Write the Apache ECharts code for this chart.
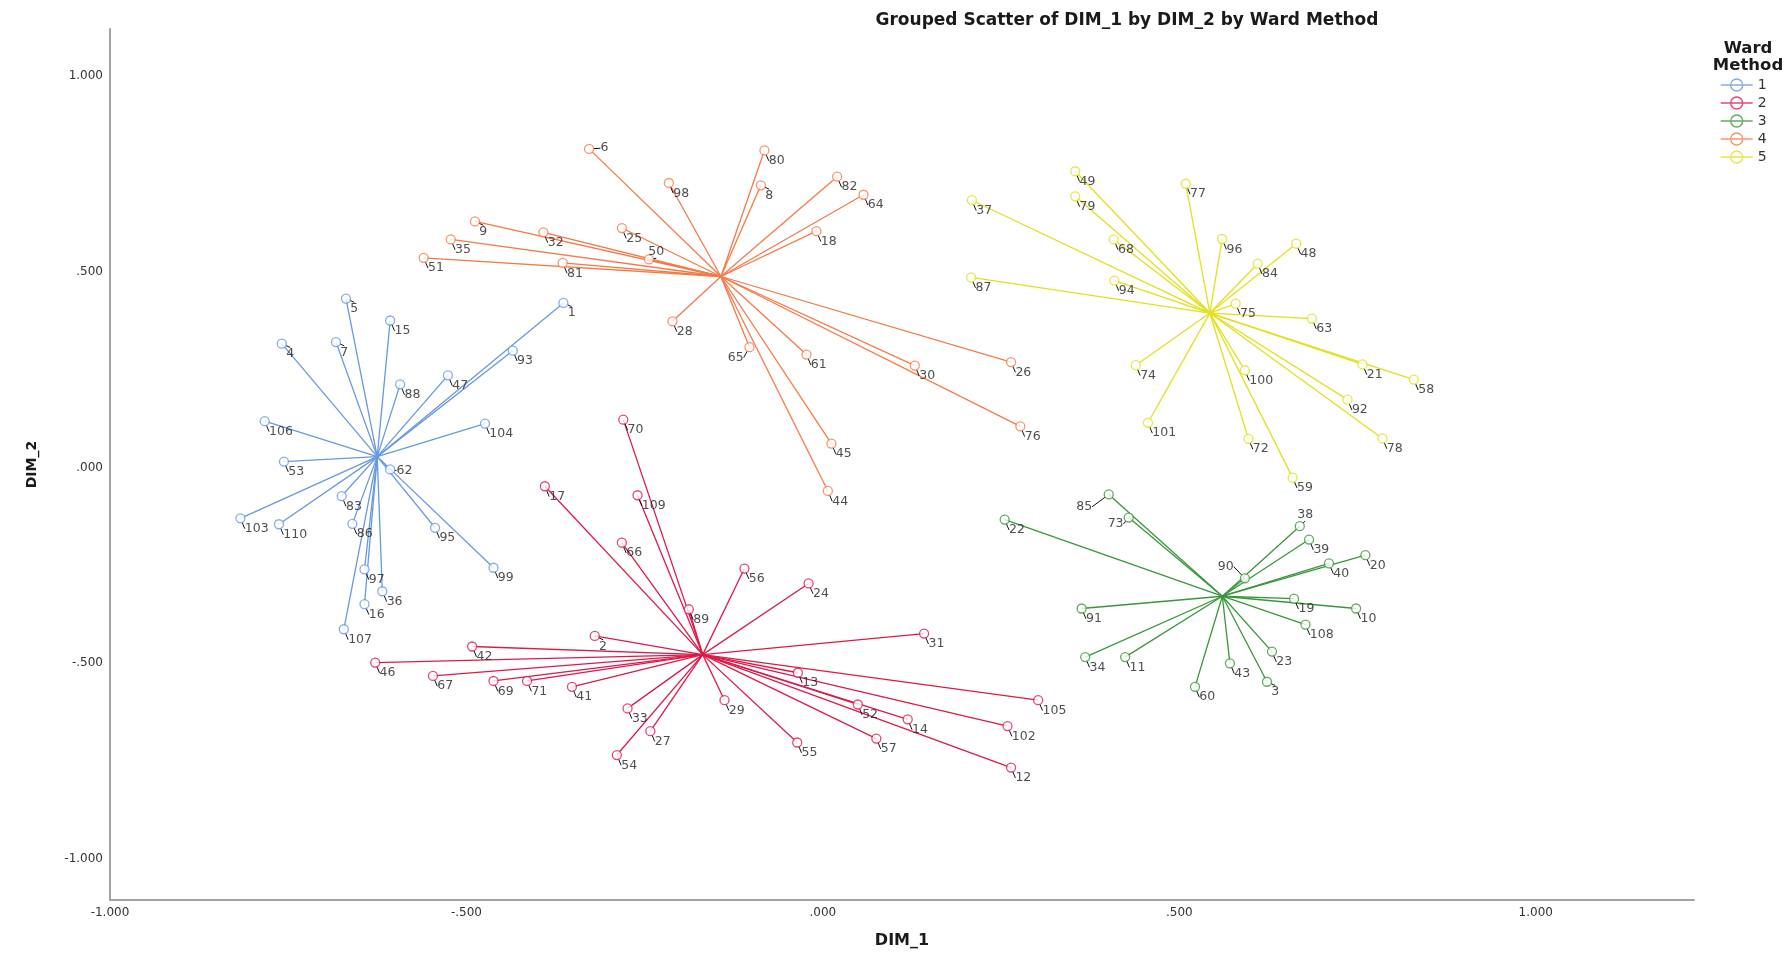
<!DOCTYPE html>
<html>
<head>
<meta charset="utf-8">
<title>Grouped Scatter of DIM_1 by DIM_2 by Ward Method</title>
<script src="https://cdn.jsdelivr.net/npm/echarts@6.0.0/dist/echarts.min.js"></script>
<style>
  html, body { margin: 0; padding: 0; background: #fff; }
  #chart { width: 1789px; height: 954px; }
</style>
</head>
<body>
<div id="chart"></div>
<script>
// [case number, DIM_1, DIM_2] for every case, one list per Ward cluster
const ward1 = [
  [1, -0.364, 0.420], [4, -0.759, 0.316], [5, -0.669, 0.431], [7, -0.683, 0.320],
  [15, -0.607, 0.375], [16, -0.643, -0.349], [36, -0.618, -0.316], [47, -0.526, 0.235],
  [53, -0.756, 0.015], [62, -0.607, -0.005], [83, -0.675, -0.073], [86, -0.660, -0.144],
  [88, -0.593, 0.212], [93, -0.435, 0.298], [95, -0.544, -0.154], [97, -0.643, -0.260],
  [99, -0.462, -0.256], [103, -0.817, -0.130], [104, -0.474, 0.112], [106, -0.783, 0.118],
  [107, -0.672, -0.413], [110, -0.763, -0.145]
];
const ward2 = [
  [2, -0.320, -0.430], [12, 0.264, -0.766], [13, -0.035, -0.524], [14, 0.119, -0.643],
  [17, -0.390, -0.048], [24, -0.020, -0.296], [27, -0.242, -0.673], [29, -0.138, -0.594],
  [31, 0.142, -0.424], [33, -0.274, -0.615], [41, -0.352, -0.560], [42, -0.492, -0.457],
  [46, -0.628, -0.498], [52, 0.049, -0.605], [54, -0.289, -0.734], [55, -0.036, -0.702],
  [56, -0.110, -0.258], [57, 0.075, -0.692], [66, -0.282, -0.192], [67, -0.547, -0.532],
  [69, -0.462, -0.545], [70, -0.280, 0.122], [71, -0.415, -0.545], [89, -0.188, -0.362],
  [102, 0.259, -0.660], [105, 0.302, -0.594], [109, -0.260, -0.071]
];
const ward3 = [
  [3, 0.623, -0.547], [10, 0.748, -0.360], [11, 0.424, -0.484], [19, 0.661, -0.335],
  [20, 0.761, -0.224], [22, 0.255, -0.133], [23, 0.630, -0.470], [34, 0.368, -0.484],
  [38, 0.669, -0.150], [39, 0.682, -0.184], [40, 0.710, -0.245], [43, 0.571, -0.500],
  [60, 0.522, -0.560], [73, 0.429, -0.128], [85, 0.401, -0.069], [90, 0.592, -0.283],
  [91, 0.363, -0.360], [108, 0.677, -0.401]
];
const ward4 = [
  [6, -0.328, 0.813], [8, -0.087, 0.720], [9, -0.488, 0.628], [18, -0.009, 0.603],
  [25, -0.282, 0.611], [26, 0.264, 0.269], [28, -0.211, 0.373], [30, 0.129, 0.260],
  [32, -0.392, 0.600], [35, -0.522, 0.582], [44, 0.007, -0.060], [45, 0.012, 0.061],
  [50, -0.244, 0.531], [51, -0.560, 0.535], [61, -0.023, 0.288], [64, 0.057, 0.696],
  [65, -0.103, 0.307], [76, 0.277, 0.105], [80, -0.082, 0.809], [81, -0.365, 0.522],
  [82, 0.020, 0.742], [98, -0.216, 0.726]
];
const ward5 = [
  [21, 0.757, 0.263], [37, 0.209, 0.682], [48, 0.664, 0.571], [49, 0.354, 0.756],
  [58, 0.829, 0.224], [59, 0.659, -0.026], [63, 0.686, 0.380], [68, 0.408, 0.582],
  [72, 0.597, 0.073], [74, 0.439, 0.261], [75, 0.579, 0.418], [77, 0.509, 0.724],
  [78, 0.785, 0.074], [79, 0.354, 0.692], [84, 0.610, 0.520], [87, 0.208, 0.485],
  [92, 0.736, 0.173], [94, 0.409, 0.477], [96, 0.560, 0.583], [100, 0.592, 0.248],
  [101, 0.456, 0.114]
];

const groupNames = ["1", "2", "3", "4", "5"];
const groupColors = ["#6699e0", "#dc1a48", "#3a963a", "#f47a48", "#e2e01c"];
const clusters = [ward1, ward2, ward3, ward4, ward5];

// labels that SPSS moved away from the usual lower-right spot: [dx, dy, align] from the point
const labelSpots = {
  6: [12, 0, "left"], 62: [7, 2, "left"], 50: [8, -7, "center"], 38: [6, -11, "center"],
  65: [-13, 11, "center"], 85: [-16, 13, "right"], 73: [-4.5, 7, "right"], 90: [-10.5, -11, "right"]
};

const FONT = "DejaVu Sans";
const SYMBOL = 9;

// SPSS style numbers: .500, -.500, 1.000
const spssNumber = (v) => v.toFixed(3).replace(/^(-?)0\./, "$1.");

const mean = (arr, k) => arr.reduce((s, d) => s + d[k], 0) / arr.length;

const series = [];
clusters.forEach((pts, i) => {
  const cx = mean(pts, 1);
  const cy = mean(pts, 2);
  // spikes from the group centroid
  series.push({
    name: groupNames[i] + " spikes",
    type: "lines",
    coordinateSystem: "cartesian2d",
    silent: true,
    z: 2,
    lineStyle: { color: groupColors[i], width: 1.3, opacity: 1 },
    data: pts.map((d) => ({ coords: [[cx, cy], [d[1], d[2]]] })),
  });
  series.push({
    name: groupNames[i],
    type: "scatter",
    z: 3,
    symbol: "circle",
    symbolSize: SYMBOL,
    itemStyle: { color: "#fff", borderColor: groupColors[i], borderWidth: 1.3 },
    label: {
      show: true,
      formatter: (p) => String(p.value[2]),
      fontFamily: FONT,
      fontSize: 12.5,
      color: "#222",
      position: [SYMBOL / 2 + 5, SYMBOL / 2 + 11],
      align: "left",
      verticalAlign: "middle",
    },
    labelLine: { show: true, lineStyle: { color: "#111", width: 1 } },
    emphasis: { disabled: true },
    data: pts.map((d) => {
      const item = { value: [d[1], d[2], d[0]] };
      const spot = labelSpots[d[0]];
      if (spot) {
        item.label = {
          position: [SYMBOL / 2 + spot[0], SYMBOL / 2 + spot[1]],
          align: spot[2],
        };
      }
      return item;
    }),
  });
});

const legendIcon = "path://M0,6L32,6M10,6A6,6,0,1,0,22,6A6,6,0,1,0,10,6Z";

const chart = echarts.init(document.getElementById("chart"));
chart.setOption({
  animation: false,
  backgroundColor: "#fff",
  title: [
    {
      text: "Grouped Scatter of DIM_1 by DIM_2 by Ward Method",
      left: 1122,
      top: 7,
      textAlign: "center",
      textStyle: { fontFamily: FONT, fontWeight: "bold", fontSize: 17, color: "#1a1a1a" },
    },
    {
      text: "Ward\nMethod",
      left: 1743,
      top: 35,
      textAlign: "center",
      textStyle: { fontFamily: FONT, fontWeight: "bold", fontSize: 16.5, lineHeight: 17, color: "#1a1a1a" },
    },
  ],
  legend: {
    orient: "vertical",
    left: 1720,
    top: 78,
    padding: 0,
    itemWidth: 32,
    itemHeight: 13,
    itemGap: 4,
    textStyle: { fontFamily: FONT, fontSize: 14, color: "#333" },
    data: groupNames.map((n, i) => ({
      name: n,
      icon: legendIcon,
      itemStyle: { color: "#fff", borderColor: groupColors[i], borderWidth: 1.4 },
    })),
  },
  grid: { left: 110, right: 95, top: 29, bottom: 53 },
  xAxis: {
    type: "value",
    min: -1,
    max: 1.222,
    minInterval: 0.5,
    maxInterval: 0.5,
    name: "DIM_1",
    nameLocation: "middle",
    nameGap: 33,
    nameTextStyle: { fontFamily: FONT, fontWeight: "bold", fontSize: 16, color: "#1a1a1a" },
    axisLine: { show: true, onZero: false, lineStyle: { color: "#a3a3a3", width: 2 } },
    axisTick: { show: false },
    splitLine: { show: false },
    axisLabel: {
      showMaxLabel: false,
      formatter: spssNumber,
      fontFamily: FONT,
      fontSize: 12,
      color: "#333",
      margin: 7,
    },
  },
  yAxis: {
    type: "value",
    min: -1.104,
    max: 1.119,
    minInterval: 0.5,
    maxInterval: 0.5,
    name: "DIM_2",
    nameLocation: "middle",
    nameGap: 71,
    nameTextStyle: { fontFamily: FONT, fontWeight: "bold", fontSize: 14, color: "#1a1a1a" },
    axisLine: { show: true, onZero: false, lineStyle: { color: "#a3a3a3", width: 2 } },
    axisTick: { show: false },
    splitLine: { show: false },
    axisLabel: {
      showMinLabel: false,
      showMaxLabel: false,
      formatter: spssNumber,
      fontFamily: FONT,
      fontSize: 12,
      color: "#333",
      margin: 7,
    },
  },
  series: series,
});

window.onresize = function () {
  chart.resize();
};
</script>
</body>
</html>
